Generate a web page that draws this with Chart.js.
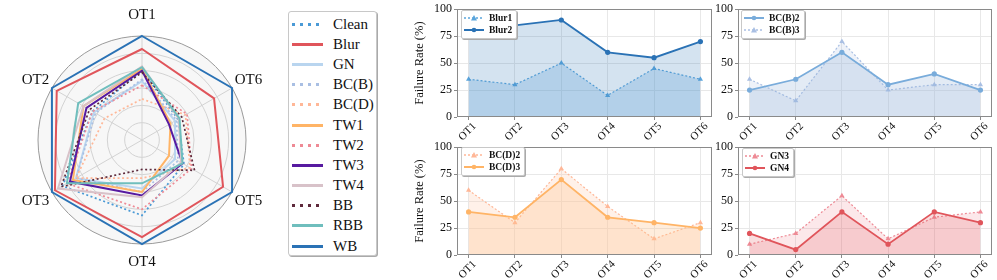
<!DOCTYPE html>
<html>
<head>
<meta charset="utf-8">
<script src="https://cdn.jsdelivr.net/npm/chart.js@4.4.1/dist/chart.umd.min.js"></script>
<style>
  body { margin: 0; width: 997px; height: 280px; background: #fff; position: relative; overflow: hidden; font-family: "Liberation Serif", "Times New Roman", Times, "DejaVu Serif", serif; color: #111; }
  canvas { position: absolute; }
  .legend { position: absolute; background: #fff; border: 1px solid #c8c8c8; border-radius: 3px; box-shadow: 1px 1px 0 #aaa; }
  .legend .row { display: flex; align-items: center; white-space: nowrap; }
  #radarLegend { left: 288px; top: 11px; width: 89px; height: 245px; padding-top: 2px; box-sizing: border-box; }
  #radarLegend .row { height: 20.2px; font-size: 15px; }
  #radarLegend .sw { display: inline-block; width: 31px; height: 3px; margin: 0 10px 0 3px; }
  .mini { padding: 1px 4px 2px 2px; border-radius: 2px; }
  .mini .row { height: 12px; font-size: 9.5px; font-weight: bold; }
  .mini svg { margin-right: 5px; }
</style>
</head>
<body>
<canvas id="radar" width="285" height="280" style="left:0;top:0"></canvas>
<div id="radarLegend" class="legend"></div>
<canvas id="c1" width="316" height="140" style="left:400px;top:0"></canvas>
<canvas id="c2" width="296" height="140" style="left:700px;top:0"></canvas>
<canvas id="c3" width="316" height="140" style="left:400px;top:138px"></canvas>
<canvas id="c4" width="296" height="140" style="left:700px;top:138px"></canvas>
<script>
// ---- data ----
const axes = ['OT1', 'OT2', 'OT3', 'OT4', 'OT5', 'OT6'];
const radarNames = ['Clean', 'Blur', 'GN', 'BC(B)', 'BC(D)', 'TW1', 'TW2', 'TW3', 'TW4', 'BB', 'RBB', 'WB'];

// radar values, OT1..OT6
const clean = [40, 33, 53, 43.5, 28, 24];
const blur  = [52.5, 56.8, 58, 56, 54, 48];
const gn    = [34, 32, 44, 28, 22, 22];
const bcb   = [35, 31, 44, 30, 24, 23];
const bcd   = [23.7, 25, 44, 22, 32, 29];
const tw1   = [41, 39, 46, 30, 18, 19];
const tw2   = [31.5, 33, 50, 40, 33, 30];
const tw3   = [40, 37, 48, 32, 27, 18];
const tw4   = [42.5, 39, 56, 33, 26, 24.5];
const bb    = [39, 35, 54, 17, 35, 26.5];
const rbb   = [42, 42.5, 50, 25, 27, 25];
const wb    = [60, 60, 60, 60, 60, 60];
const radarValues = [clean, blur, gn, bcb, bcd, tw1, tw2, tw3, tw4, bb, rbb, wb];

// failure rates (%)
const blur1 = [35, 30, 50, 20, 45, 35];
const blur2 = [80, 85, 90, 60, 55, 70];
const bcb2  = [25, 35, 60, 30, 40, 25];
const bcb3  = [35, 15, 70, 25, 30, 30];
const bcd2  = [60, 30, 80, 45, 15, 30];
const bcd3  = [40, 35, 70, 35, 30, 25];
const gn3   = [10, 20, 55, 15, 35, 40];
const gn4   = [20, 5, 40, 10, 40, 30];

// ---- styles ----
const radarColors = ['#4a9ad6', '#e0555b', '#b9d5ef', '#a9bfe3', '#ffb797', '#ffb466', '#ee8a95', '#571aa0', '#d8c2c9', '#5e2a3c', '#6fbebd', '#2a72b5'];
const radarDotted = [true, false, false, true, true, false, true, false, false, true, false, false];
const FONT = '"Liberation Serif", "Times New Roman", Times, "DejaVu Serif", serif';

// clockwise from the top: OT1, OT6, OT5, OT4, OT3, OT2
const radarOrder = [0, 5, 4, 3, 2, 1];

const radarLabels = {
  id: 'radarLabels',
  afterDraw(chart) {
    const s = chart.scales.r, ctx = chart.ctx;
    ctx.save();
    ctx.font = '15px ' + FONT;
    ctx.fillStyle = '#111';
    ctx.textAlign = 'center';
    ctx.textBaseline = 'middle';
    chart.data.labels.forEach((lab, i) => {
      const extra = i === 0 ? 21 : (i === 3 ? 18 : 19);
      const p = s.getPointPosition(i, s.drawingArea + extra);
      ctx.fillText(lab, p.x, p.y + (i === 1 || i === 5 ? 2 : 0));
    });
    ctx.restore();
  }
};

function drawAll() {
new Chart(document.getElementById('radar'), {
  type: 'radar',
  data: {
    labels: radarOrder.map(i => axes[i]),
    datasets: radarNames.map((name, k) => ({
      label: name,
      data: radarOrder.map(i => radarValues[k][i]),
      borderColor: radarColors[k],
      borderWidth: radarDotted[k] ? 1.7 : 2,
      borderDash: radarDotted[k] ? [2, 2.5] : [],
      fill: false,
      pointRadius: 0,
      order: radarNames.length - k
    }))
  },
  options: {
    responsive: false,
    animation: false,
    layout: { padding: { top: 36, bottom: 36 } },
    elements: { line: { tension: 0 } },
    plugins: { legend: { display: false }, tooltip: { enabled: false } },
    scales: {
      r: {
        min: 0, max: 60,
        backgroundColor: '#f7f7f7',
        ticks: { display: false, stepSize: 10 },
        pointLabels: { display: false },
        grid: { circular: true, color: c => c.index === 6 ? '#9a9a9a' : '#d3d3d3', lineWidth: 1 },
        angleLines: { color: '#d3d3d3' }
      }
    }
  },
  plugins: [radarLabels]
});

// radar legend
const legendBox = document.getElementById('radarLegend');
radarNames.forEach((name, k) => {
  const row = document.createElement('div');
  row.className = 'row';
  const sw = document.createElement('span');
  sw.className = 'sw';
  const c = radarColors[k];
  sw.style.background = radarDotted[k] ? `repeating-linear-gradient(90deg, ${c} 0 3px, transparent 3px 8px)` : c;
  row.appendChild(sw);
  row.appendChild(document.createTextNode(name));
  legendBox.appendChild(row);
});

miniChart('c1', [
  { label: 'Blur1', values: blur1, color: '#5aa5dc', fill: '#5aa5dc', alpha: 0.25, dotted: true },
  { label: 'Blur2', values: blur2, color: '#2a72b5', fill: '#2a72b5', alpha: 0.2, dotted: false }
], { padLeft: 12, yWidth: 45, title: true, legendLeft: 461, legendTop: 10 });

miniChart('c2', [
  { label: 'BC(B)2', values: bcb2, color: '#79acdb', fill: '#8fb0d8', alpha: 0.25, dotted: false },
  { label: 'BC(B)3', values: bcb3, color: '#a9bfe3', fill: '#a9bfe3', alpha: 0.2, dotted: true }
], { padLeft: 0, yWidth: 38, title: false, legendLeft: 741, legendTop: 10 });

miniChart('c3', [
  { label: 'BC(D)2', values: bcd2, color: '#ffb797', fill: '#ffc8a8', alpha: 0.25, dotted: true },
  { label: 'BC(D)3', values: bcd3, color: '#ffb466', fill: '#ffc48a', alpha: 0.3, dotted: false }
], { padLeft: 12, yWidth: 45, title: true, legendLeft: 461, legendTop: 147 });

miniChart('c4', [
  { label: 'GN3', values: gn3, color: '#ee8a95', fill: '#ee8a95', alpha: 0.2, dotted: true },
  { label: 'GN4', values: gn4, color: '#e0555b', fill: '#e0555b', alpha: 0.2, dotted: false }
], { padLeft: 0, yWidth: 38, title: false, legendLeft: 742, legendTop: 148 });
}

// ---- line charts ----
const frame = {
  id: 'frame',
  afterDraw(chart) {
    const { ctx, chartArea: a } = chart;
    ctx.save();
    ctx.strokeStyle = '#8a8a8a';
    ctx.lineWidth = 1;
    ctx.strokeRect(Math.round(a.left) + 0.5, Math.round(a.top) + 0.5, Math.round(a.right - a.left) - 1, Math.round(a.bottom - a.top) - 1);
    ctx.restore();
  }
};

function rgba(hex, a) {
  const n = parseInt(hex.slice(1), 16);
  return `rgba(${n >> 16},${(n >> 8) & 255},${n & 255},${a})`;
}

function sample(color, dotted) {
  const dash = dotted ? 'stroke-dasharray="2 2"' : '';
  const mark = dotted
    ? `<polygon points="10,1 13,6.5 7,6.5" fill="${color}"/>`
    : `<circle cx="10" cy="4" r="2.3" fill="${color}"/>`;
  return `<svg width="20" height="8"><line x1="0" y1="4" x2="20" y2="4" stroke="${color}" stroke-width="${dotted ? 1.5 : 2}" ${dash}/>${mark}</svg>`;
}

function miniChart(id, series, opt) {
  const canvas = document.getElementById(id);
  new Chart(canvas, {
    type: 'line',
    data: {
      datasets: series.map((s, k) => ({
        label: s.label,
        data: s.values.map((v, i) => ({ x: i, y: v })),
        borderColor: s.color,
        backgroundColor: rgba(s.fill, s.alpha),
        borderWidth: s.dotted ? 1.2 : 1.8,
        borderDash: s.dotted ? [2, 2] : [],
        pointStyle: s.dotted ? 'triangle' : 'circle',
        pointRadius: s.dotted ? 3 : 2.6,
        pointBackgroundColor: s.color,
        pointBorderWidth: 0,
        fill: 'origin',
        tension: 0,
        order: s.dotted ? 2 : 1
      }))
    },
    options: {
      responsive: false,
      animation: false,
      layout: { padding: { left: opt.padLeft, top: 7, right: 4, bottom: 0 } },
      plugins: { legend: { display: false }, tooltip: { enabled: false } },
      scales: {
        x: {
          type: 'linear', min: -0.25, max: 5.25,
          afterBuildTicks: s => { s.ticks = axes.map((_, i) => ({ value: i })); },
          afterFit: s => { s.height = 23; },
          ticks: {
            callback: v => axes[v],
            minRotation: 45, maxRotation: 45, autoSkip: false,
            font: { family: FONT, size: 11 }, color: '#111', padding: 0, labelOffset: 6
          },
          grid: { color: '#e8e8e8', tickLength: 3, tickColor: '#8a8a8a' },
          border: { display: false }
        },
        y: {
          min: 0, max: 100,
          afterFit: s => { s.width = opt.yWidth; },
          ticks: { stepSize: 25, font: { family: FONT, size: 12 }, color: '#111', padding: 2 },
          grid: { color: c => (c.tick && (c.tick.value === 0 || c.tick.value === 100)) ? 'rgba(0,0,0,0)' : '#e8e8e8', tickLength: 3, tickColor: '#8a8a8a' },
          border: { display: false },
          title: { display: opt.title, text: 'Failure Rate (%)', font: { family: FONT, size: 12.5 }, color: '#111', padding: 0 }
        }
      }
    },
    plugins: [frame]
  });

  const box = document.createElement('div');
  box.className = 'legend mini';
  box.style.left = opt.legendLeft + 'px';
  box.style.top = opt.legendTop + 'px';
  series.forEach(s => {
    const row = document.createElement('div');
    row.className = 'row';
    row.innerHTML = sample(s.color, s.dotted);
    row.appendChild(document.createTextNode(s.label));
    box.appendChild(row);
  });
  document.body.appendChild(box);
}

if (document.fonts && document.fonts.load) {
  Promise.all([
    document.fonts.load('15px "Liberation Serif"'),
    document.fonts.load('bold 10px "Liberation Serif"')
  ]).then(drawAll, drawAll);
} else {
  drawAll();
}
</script>
</body>
</html>
